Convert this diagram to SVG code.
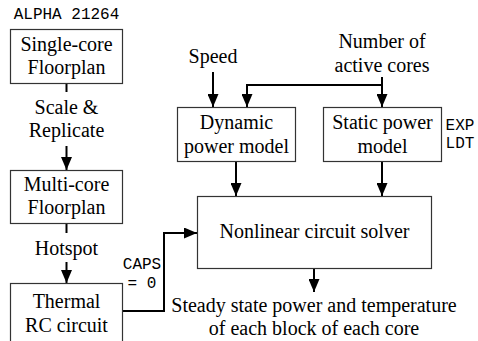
<svg xmlns="http://www.w3.org/2000/svg" width="478" height="341" viewBox="0 0 478 341">
<style>
.box{fill:#fff;stroke:#333;stroke-width:1.2}
.t{font-family:"Liberation Serif","Times New Roman",serif;font-size:20px;fill:#000;text-anchor:middle}
.m{font-family:"Liberation Mono","Courier New",monospace;font-size:16px;fill:#000;text-anchor:middle}
.c{fill:none;stroke:#000;stroke-width:2}
</style>
<defs>
<marker id="ah" markerUnits="userSpaceOnUse" markerWidth="13" markerHeight="11" refX="13" refY="5.5" orient="auto">
<path d="M0,0 L13,5.5 L0,11 z" fill="#000"/>
</marker>
</defs>
<rect width="478" height="341" fill="#fff"/>
<g id="connectors">
<path class="c" d="M66.5,84 V92"/>
<path class="c" d="M66.5,146 V170" marker-end="url(#ah)"/>
<path class="c" d="M66.5,224 V233"/>
<path class="c" d="M66.5,262 V283" marker-end="url(#ah)"/>
<path class="c" d="M123,311 H164 V233 H197" marker-end="url(#ah)"/>
<path class="c" d="M213,72 V107" marker-end="url(#ah)"/>
<path class="c" d="M382,77 V107" marker-end="url(#ah)"/>
<path class="c" d="M382,85 H247 V107" marker-end="url(#ah)"/>
<path class="c" d="M236,162 V196" marker-end="url(#ah)"/>
<path class="c" d="M382,162 V196" marker-end="url(#ah)"/>
<path class="c" d="M314,269 V292" marker-end="url(#ah)"/>
</g>
<g id="alpha-label"><text class="m" x="66.5" y="19">ALPHA 21264</text></g>
<g id="single-core">
<rect class="box" x="10.5" y="29.5" width="112" height="54"/>
<text class="t" x="66.5" y="51">Single-core</text>
<text class="t" x="66.5" y="74">Floorplan</text>
</g>
<g id="scale-label">
<text class="t" x="66.5" y="114">Scale &amp;</text>
<text class="t" x="66.5" y="137">Replicate</text>
</g>
<g id="multi-core">
<rect class="box" x="10.5" y="170.5" width="112" height="53"/>
<text class="t" x="66.5" y="191">Multi-core</text>
<text class="t" x="66.5" y="214">Floorplan</text>
</g>
<g id="hotspot-label"><text class="t" x="66.5" y="255">Hotspot</text></g>
<g id="thermal">
<rect class="box" x="10.5" y="283.5" width="112" height="70"/>
<text class="t" x="66.5" y="308">Thermal</text>
<text class="t" x="66.5" y="332">RC circuit</text>
</g>
<g id="caps-label">
<text class="m" x="142" y="269">CAPS</text>
<text class="m" x="142" y="288">= 0</text>
</g>
<g id="speed-label"><text class="t" x="213" y="63">Speed</text></g>
<g id="cores-label">
<text class="t" x="382" y="48">Number of</text>
<text class="t" x="382" y="72">active cores</text>
</g>
<g id="dynamic">
<rect class="box" x="177.5" y="107.5" width="118" height="54"/>
<text class="t" x="236.5" y="129">Dynamic</text>
<text class="t" x="236.5" y="153">power model</text>
</g>
<g id="static">
<rect class="box" x="323.5" y="107.5" width="118" height="54"/>
<text class="t" x="382.5" y="129">Static power</text>
<text class="t" x="382.5" y="153">model</text>
</g>
<g id="exp-label">
<text class="m" x="460" y="130">EXP</text>
<text class="m" x="460" y="148">LDT</text>
</g>
<g id="solver">
<rect class="box" x="197.5" y="196.5" width="234" height="72"/>
<text class="t" x="314.5" y="238">Nonlinear circuit solver</text>
</g>
<g id="output-label">
<text class="t" x="314" y="312">Steady state power and temperature</text>
<text class="t" x="314" y="335">of each block of each core</text>
</g>
</svg>
